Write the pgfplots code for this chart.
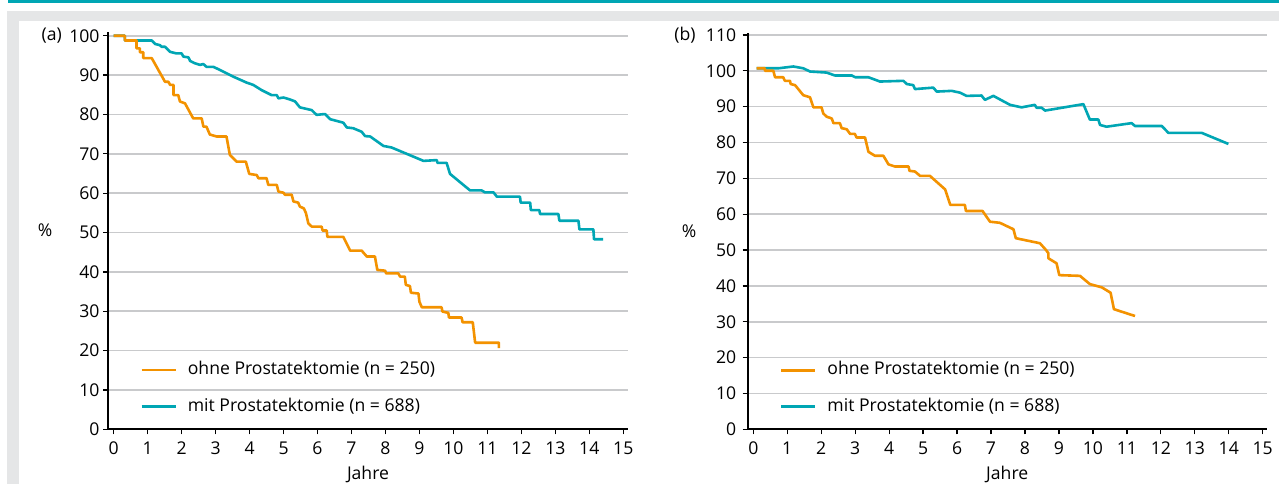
\documentclass[border=0pt]{standalone}
\usepackage{fontspec}
\setmainfont{Open Sans}
\usepackage{pgfplots}
\pgfplotsset{compat=1.18}
\definecolor{cOr}{HTML}{F39200}
\definecolor{cTe}{HTML}{00A6B4}
\definecolor{cGrid}{HTML}{C9CACC}
\definecolor{cBg}{HTML}{E5E6E7}
\newcommand{\ff}{\fontsize{17.6}{21}\selectfont}
\pgfplotsset{
  km/.style={
    scale only axis,
    axis x line=bottom, axis y line=left,
    axis line style={line width=1.6pt, black, -},
    xtick={0,1,...,15}, ymin=0,
    tick align=outside, major tick length=5pt,
    tick style={line width=1.3pt, black},
    ymajorgrids, grid style={cGrid, line width=1.6pt},
    font=\ff,
    /pgf/number format/assume math mode=true,
    xticklabel style={yshift=-4pt},
    xlabel={Jahre}, ylabel={\%},
    xlabel style={at={(axis description cs:0.5,0)}, anchor=center, yshift=-45.5pt},
    legend style={draw=none, fill=none, inner sep=0pt, outer sep=0pt,
      row sep=19.5pt, column sep=11pt,
      nodes={inner sep=0pt, text height=13pt, text depth=4pt, anchor=west}},
    legend cell align=left,
    legend image code/.code={\draw[line width=2.6pt,##1] (0pt,0pt) -- (34pt,0pt);},
    reverse legend,
    every axis plot/.append style={line width=2.6pt, line join=round, mark=none},
  }
}
\begin{document}
\begin{tikzpicture}
\useasboundingbox (0,0) rectangle (1279pt,484pt);
\fill[white] (0,0) rectangle (1279pt,484pt);
\fill[cTe] (8pt,481pt) rectangle (1279pt,484pt);
\fill[cBg] (7pt,0pt) rectangle (1279pt,473pt);
\fill[white] (19pt,0pt) rectangle (1279pt,463pt);

\begin{axis}[km, at={(108pt,54.7pt)}, anchor=south west,
  width=520pt, height=397.5pt,
  xmin=-0.168, xmax=15.14, ymax=101, ytick={0,10,...,100},
  every axis y label/.style={at={(axis description cs:-0.121,0.5)}, anchor=center},
  legend style={at={(0.062,0.103)}, anchor=west}]
\addplot[cTe] coordinates {
(0,100) (0.33,100) (0.33,98.8) (1.12,98.8) (1.22,97.9) (1.36,97.6) (1.41,97.2) (1.51,97.2)
(1.66,95.9) (1.85,95.5) (2.00,95.5) (2.05,94.7) (2.20,94.5) (2.25,93.6) (2.39,93.0)
(2.54,92.6) (2.64,92.8) (2.73,92.1) (2.93,92.1) (3.13,91.3) (3.52,89.6) (3.91,88.1)
(4.11,87.5) (4.35,86.2) (4.65,84.9) (4.80,84.9) (4.85,84.1) (5.00,84.3) (5.19,83.8)
(5.34,83.3) (5.48,81.8) (5.83,81.1) (5.97,79.9) (6.22,80.1) (6.37,78.8) (6.76,77.9)
(6.86,76.7) (7.05,76.5) (7.30,75.6) (7.40,74.5) (7.55,74.4) (7.94,72.0) (8.18,71.6)
(9.12,68.2) (9.51,68.4) (9.53,67.7) (9.80,67.7) (9.90,64.9) (10.49,60.7) (10.83,60.7)
(10.93,60.2) (11.18,60.2) (11.28,59.1) (11.96,59.1) (11.98,57.6) (12.26,57.6) (12.28,55.7)
(12.53,55.7) (12.55,54.7) (13.09,54.7) (13.12,53.0) (13.68,53.0) (13.71,50.8) (14.12,50.8)
(14.14,48.3) (14.41,48.3)};
\addlegendentry{mit Prostatektomie (n = 688)}
\addplot[cOr] coordinates {
(0,100) (0.33,100) (0.33,98.8) (0.67,98.8) (0.67,96.8) (0.77,96.8) (0.77,95.8) (0.87,95.8)
(0.87,94.3) (1.12,94.3) (1.51,88.3) (1.61,88.3) (1.66,87.5) (1.76,87.5) (1.76,84.9)
(1.90,84.9) (1.95,83.3) (2.10,82.8) (2.34,79.0) (2.59,79.0) (2.64,76.9) (2.73,76.9)
(2.83,74.9) (3.03,74.4) (3.32,74.4) (3.42,69.7) (3.62,68.0) (3.89,68.0) (3.99,64.9)
(4.21,64.6) (4.26,63.8) (4.50,63.8) (4.55,62.1) (4.80,62.1) (4.85,60.4) (5.00,60.1)
(5.04,59.6) (5.24,59.6) (5.29,57.9) (5.43,57.6) (5.48,56.6) (5.60,56.1) (5.66,54.9)
(5.73,52.3) (5.83,51.5) (6.12,51.5) (6.15,50.5) (6.27,50.5) (6.29,48.9) (6.76,48.9)
(6.96,45.4) (7.30,45.4) (7.45,43.9) (7.69,43.9) (7.76,40.5) (7.99,40.3) (8.02,39.6)
(8.38,39.6) (8.43,38.8) (8.57,38.8) (8.60,36.7) (8.72,36.4) (8.75,34.7) (8.97,34.5)
(9.00,32.4) (9.07,31.0) (9.65,31.0) (9.68,29.9) (9.85,29.6) (9.87,28.4) (10.24,28.4)
(10.27,27.2) (10.57,27.2) (10.64,22.0) (11.34,22.0) (11.34,20.6)};
\addlegendentry{ohne Prostatektomie (n = 250)}
\end{axis}

\begin{axis}[km, at={(747.7pt,54.7pt)}, anchor=south west,
  width=519pt, height=396.5pt,
  xmin=-0.165, xmax=15.118, ymax=110.6, ytick={0,10,...,110},
  yticklabel style={xshift=-3pt},
  every axis y label/.style={at={(axis description cs:-0.113,0.5)}, anchor=center},
  legend style={at={(0.062,0.103)}, anchor=west}]
\addplot[cTe] coordinates {
(0.10,100.7) (0.74,100.7) (1.18,101.2) (1.47,100.7) (1.67,99.8) (2.16,99.5) (2.40,98.7)
(2.90,98.7) (3.00,98.2) (3.39,98.2) (3.73,97.0) (4.42,97.2) (4.52,96.3) (4.71,96.0)
(4.76,94.9) (5.30,95.3) (5.40,94.2) (5.84,94.4) (6.09,93.9) (6.28,93.0) (6.72,93.1)
(6.82,91.9) (7.07,93.0) (7.56,90.5) (7.90,89.8) (8.29,90.5) (8.34,89.7) (8.49,89.7)
(8.59,88.9) (9.72,90.7) (9.91,86.4) (10.16,86.4) (10.21,84.9) (10.40,84.4) (11.14,85.4)
(11.24,84.6) (12.03,84.6) (12.22,82.7) (13.20,82.7) (13.99,79.6)};
\addlegendentry{mit Prostatektomie (n = 688)}
\addplot[cOr] coordinates {
(0.10,100.7) (0.34,100.7) (0.34,100.0) (0.59,100.0) (0.64,98.2) (0.88,98.2) (0.93,97.2)
(1.08,97.2) (1.10,96.3) (1.23,96.0) (1.47,93.2) (1.67,92.6) (1.77,89.8) (2.01,89.8)
(2.06,88.1) (2.16,87.2) (2.31,86.7) (2.36,85.4) (2.55,85.4) (2.60,84.0) (2.75,83.7)
(2.85,82.4) (2.99,82.4) (3.04,81.4) (3.29,81.4) (3.39,77.4) (3.58,76.3) (3.83,76.3)
(3.98,73.9) (4.17,73.3) (4.57,73.3) (4.60,72.1) (4.76,71.9) (4.91,70.7) (5.20,70.7)
(5.65,66.9) (5.80,62.6) (6.23,62.6) (6.26,60.9) (6.75,60.9) (6.97,57.9) (7.26,57.6)
(7.66,55.8) (7.73,53.3) (8.44,51.9) (8.62,50.0) (8.69,49.1) (8.69,47.7) (8.93,46.3)
(9.01,43.0) (9.62,42.8) (9.91,40.5) (10.26,39.6) (10.52,38.1) (10.62,33.5) (11.24,31.6)};
\addlegendentry{ohne Prostatektomie (n = 250)}
\end{axis}

\node[font=\ff, anchor=center] at (51.7pt,448.3pt) {(a)};
\node[font=\ff, anchor=center] at (685pt,449pt) {(b)};
\end{tikzpicture}
\end{document}
